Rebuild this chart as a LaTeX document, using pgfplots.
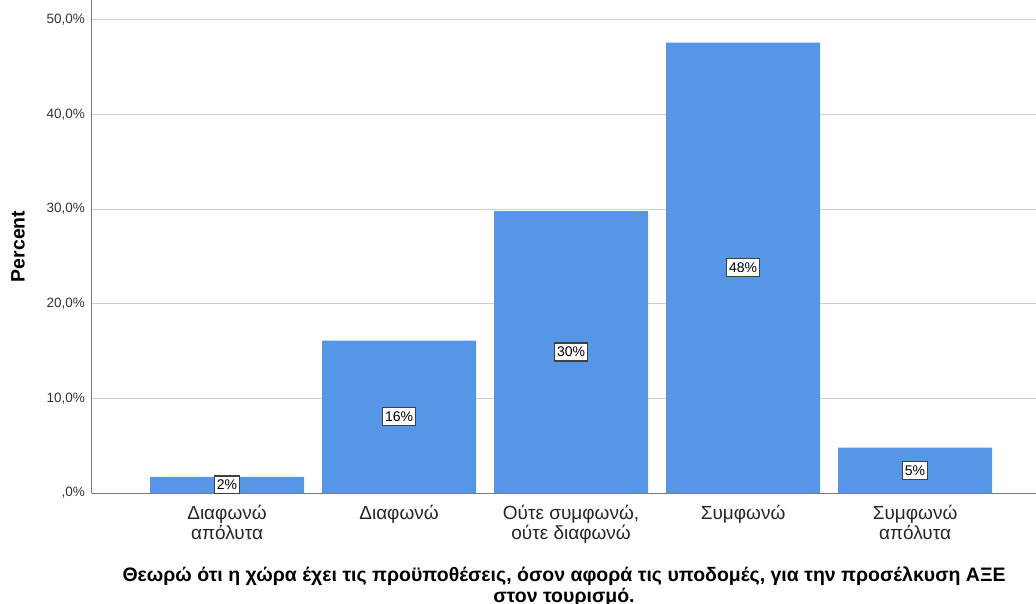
\documentclass[border=0pt]{standalone}
\usepackage{fontspec}
\setmainfont{Liberation Sans}
\usepackage{pgfplots}
\usepackage{pgfplotstable}
\pgfplotsset{compat=1.18}
\definecolor{barblue}{RGB}{85,150,230}
\definecolor{gridgray}{RGB}{205,205,205}
\definecolor{axisgray}{RGB}{120,120,120}

\pgfplotstableread{
x y lab
0 1.7 2
1 16.1 16
2 29.8 30
3 47.6 48
4 4.8 5
}\data

\begin{document}
\begin{tikzpicture}
\begin{axis}[
    scale only axis,
    width=944pt, height=493pt,
    xmin=-0.785, xmax=4.703,
    ymin=0, ymax=52.1,
    axis x line*=bottom, axis y line*=left,
    axis line style={axisgray, line width=1pt},
    x axis line style={-}, y axis line style={-},
    ymajorgrids, grid style={gridgray, line width=1pt},
    major tick length=0pt,
    ytick={0,10,20,30,40,50},
    yticklabels={{,0\%},{10,0\%},{20,0\%},{30,0\%},{40,0\%},{50,0\%}},
    xtick=data,
    xticklabels={{Διαφωνώ\\απόλυτα},{Διαφωνώ},{Ούτε συμφωνώ,\\ούτε διαφωνώ},{Συμφωνώ},{Συμφωνώ\\απόλυτα}},
    /pgf/number format/assume math mode=true,
    yticklabel style={font=\fontsize{13.5}{15}\selectfont, text=black!80, anchor=east, inner sep=0pt, xshift=-7pt},
    xticklabel style={font=\fontsize{19}{19.5}\selectfont, text=black!85, align=center, anchor=north, inner sep=0pt, yshift=-12pt},
    xlabel={Θεωρώ ότι η χώρα έχει τις προϋποθέσεις, όσον αφορά τις υποδομές, για την προσέλκυση ΑΞΕ\\στον τουρισμό.},
    xlabel style={font=\bfseries\fontsize{19.5}{21}\selectfont, align=center, anchor=north, inner sep=0pt,
        at={(axis description cs:0.5,-0.150)}},
    ylabel={Percent},
    ylabel style={font=\bfseries\fontsize{19.5}{20}\selectfont, anchor=center, inner sep=0pt,
        at={(axis description cs:-0.0784,0.5)}},
]
\addplot[ybar, bar width=0.895, fill=barblue, draw=none] table[x=x, y=y] {\data};
\addplot[only marks, mark=none,
    nodes near coords={\pgfplotspointmeta\%}, point meta=explicit symbolic,
    every node near coord/.append style={anchor=center, fill=white, draw=black!75, line width=1.2pt,
        inner xsep=2.5pt, inner ysep=4pt, font=\fontsize{14}{15}\selectfont}]
    table[x=x, y expr=\thisrow{y}/2, meta=lab] {\data};
\end{axis}
\pgfresetboundingbox
\path[use as bounding box] ([xshift=-92pt]current axis.south west) ++(0,-110pt) rectangle ++(1036pt,603pt);
\end{tikzpicture}
\end{document}
